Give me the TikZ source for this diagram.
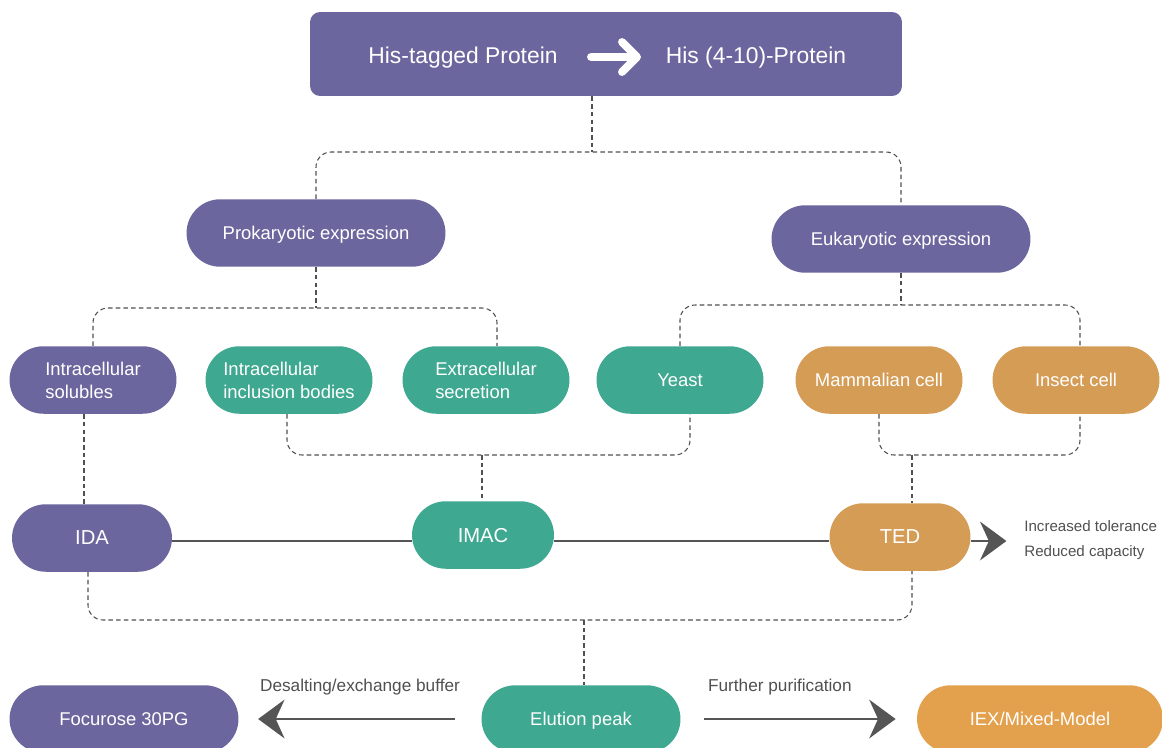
\documentclass[tikz,border=0pt]{standalone}
\usepackage{fontspec}
\setmainfont{Liberation Sans}
\usetikzlibrary{arrows.meta, positioning, shapes.misc, calc}
\definecolor{PU}{RGB}{108,102,158}
\definecolor{TE}{RGB}{62,168,144}
\definecolor{OR}{RGB}{213,156,86}
\definecolor{LO}{RGB}{228,161,77}
\definecolor{DG}{RGB}{85,85,85}
\definecolor{TX}{RGB}{80,80,80}

\begin{document}
\begin{tikzpicture}[x=0.02cm, y=-0.02cm,
  pill/.style={rounded rectangle, fill=#1, text=white, inner sep=2pt,
               minimum width=3.48cm, minimum height=1.35cm, text depth=0pt,
               align=left, font=\fontsize{10.5}{13}\selectfont},
  tag/.style={pill=#1, font=\fontsize{11.5}{14}\selectfont},
  head/.style={text=white, font=\fontsize{13}{15}\selectfont},
  dsh/.style={draw=TX, line width=0.6pt, dash pattern=on 2.6pt off 1.8pt,
              rounded corners=0.3cm},
  flow/.style={draw=DG, line width=1.6pt},
  arr/.style={flow, -{Stealth[length=15pt, width=22pt, inset=5pt]}},
  lbl/.style={text=TX, font=\fontsize{9.8}{12}\selectfont}
]
\path[use as bounding box] (0,0) rectangle (1162,747);
\clip (0,0) rectangle (1162,747);

% title
\node[fill=PU, rounded corners=0.2cm, minimum width=11.84cm,
      minimum height=1.68cm] (top) at (606,54) {};
\node[head] (tagged) at (463,58) {His-tagged Protein};
\node[head] (short)  at (756,58) {His (4-10)-Protein};
\draw[white, line width=4.5pt, line cap=round, line join=round]
  (591,57) -- (627,57) (622,42) -- (637,57) -- (622,72);

% expression systems
\node[pill=PU, minimum width=5.32cm] (pro) at (316,233) {Prokaryotic expression};
\node[pill=PU, minimum width=5.32cm] (euk) at (901,239) {Eukaryotic expression};

\node[pill=PU] (sol) at (93,380)   {Intracellular\\solubles};
\node[pill=TE] (inc) at (289,380)  {Intracellular\\inclusion bodies};
\node[pill=TE] (ext) at (486,380)  {Extracellular\\secretion};
\node[pill=TE] (yst) at (680,380)  {Yeast};
\node[pill=OR] (mam) at (879,380)  {Mammalian cell};
\node[pill=OR] (ins) at (1076,380) {Insect cell};

% chelators
\node[tag=PU, minimum width=3.34cm] (ida)  at (92,538)  {IDA};
\node[tag=TE, minimum width=2.98cm] (imac) at (483,535) {IMAC};
\node[tag=OR, minimum width=2.96cm] (ted)  at (900,537) {TED};
\node[lbl, anchor=west, align=left, inner sep=0pt,
      font=\fontsize{8.6}{14.7}\selectfont]
  (note) at (1024,540) {Increased tolerance\\Reduced capacity};

% elution
\node[pill=PU, minimum width=4.72cm] (foc) at (124,719)  {Focurose 30PG};
\node[pill=TE, minimum width=4.12cm] (elu) at (581,719)  {Elution peak};
\node[pill=LO, minimum width=5.06cm] (iex) at (1040,719) {IEX/Mixed-Model};

% dashed tree
\coordinate (j1) at (592,152);
\draw[dsh] (top.south -| j1) -- (j1);
\draw[dsh] (pro.north) |- (j1) -| (euk.north);

\coordinate (j2) at (316,308);
\draw[dsh] (pro.south) -- (j2);
\draw[dsh] (sol.north) |- (j2) -| ([xshift=0.22cm]ext.north);

\coordinate (j3) at (901,305);
\draw[dsh] (euk.south) -- (j3);
\draw[dsh] (yst.north) |- (j3) -| ([xshift=0.08cm]ins.north);

\coordinate (j4) at (482,455);
\draw[dsh] ([xshift=-0.04cm]inc.south) |- (j4) -| ([xshift=0.2cm]yst.south);
\draw[dsh] (j4) -- (imac.north -| j4);

\coordinate (j5) at (912,455);
\draw[dsh] (mam.south) |- (j5) -| ([xshift=0.08cm]ins.south);
\draw[dsh] (j5) -- (ted.north -| j5);

\draw[dsh] ([xshift=-0.18cm]sol.south) -- ([xshift=-0.18cm]sol.south |- ida.north);

\coordinate (j6) at (584,620);
\draw[dsh] ([xshift=-0.08cm]ida.south) |- (j6) -| (ted.south -| j5);
\draw[dsh] (j6) -- (elu.north -| j6);

% solid flow
\coordinate (ax) at (0,541);
\draw[flow] (ida.east |- ax) -- (imac.west |- ax);
\draw[flow] (imac.east |- ax) -- (ted.west |- ax);
\draw[arr, shorten >=10pt] (ted.east |- ax) -- (note.west |- ax);

\draw[arr, shorten <=15pt, shorten >=11pt] (elu.west) -- (foc.east)
  node[lbl, midway, yshift=0.64cm] {Desalting/exchange buffer};
\draw[arr, shorten <=13pt, shorten >=12pt] (elu.east) -- (iex.west)
  node[lbl, pos=0.42, yshift=0.64cm] {Further purification};
\end{tikzpicture}
\end{document}
